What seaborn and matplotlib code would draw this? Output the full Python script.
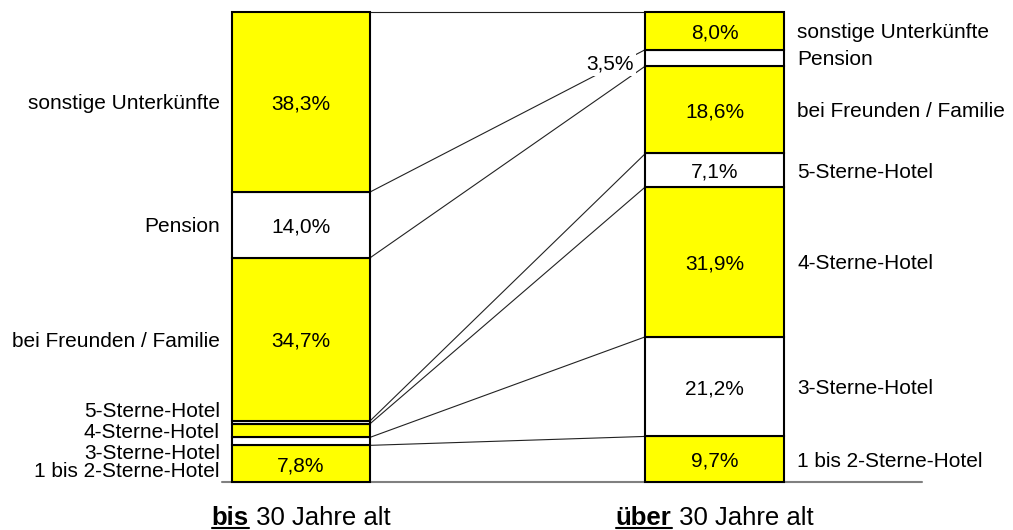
import numpy as np
import pandas as pd
import seaborn as sns
import matplotlib.pyplot as plt
from matplotlib.lines import Line2D

sns.set_theme(style="white")
plt.rcParams["font.family"] = ["Liberation Sans", "DejaVu Sans"]

# Accommodation types, listed from the bottom of each stacked bar to the top
categories = ["1 bis 2-Sterne-Hotel", "3-Sterne-Hotel", "4-Sterne-Hotel",
              "5-Sterne-Hotel", "bei Freunden / Familie", "Pension",
              "sonstige Unterkünfte"]
groups = ["bis 30 Jahre alt", "über 30 Jahre alt"]
share_young = [7.8, 1.7, 2.9, 0.6, 34.7, 14.0, 38.3]
share_old = [9.7, 21.2, 31.9, 7.1, 18.6, 3.5, 8.0]
segment_colors = ["#FFFF00", "#FFFFFF", "#FFFF00", "#FFFFFF",
                  "#FFFF00", "#FFFFFF", "#FFFF00"]
# bold (underlined) word and the rest of each group caption
group_titles = [("bis", " 30 Jahre alt"), ("über", " 30 Jahre alt")]

# label heights for the thin segments of the left bar (None = segment centre)
left_label_y = [2.6, 6.4, 10.9, 15.5, None, None, None]

LABEL_FS = 15
TITLE_FS = 18.5
bar_w = 0.334

df = pd.DataFrame({
    "group": np.repeat(groups, len(categories)),
    "category": categories * 2,
    "share": share_young + share_old,
    "color": segment_colors * 2,
})
df["bottom"] = df.groupby("group")["share"].cumsum() - df["share"]

fig = plt.figure(figsize=(10.13, 5.30), dpi=100)
ax = fig.add_axes([0, 0, 1, 1])

# stacked bars, one segment at a time
for _, row in df.iterrows():
    sns.barplot(x=[row["group"]], y=[row["share"]], order=groups,
                bottom=row["bottom"], color=row["color"], saturation=1,
                width=bar_w, edgecolor="black", linewidth=1.5,
                errorbar=None, ax=ax, zorder=2)

ax.set_xlim(-0.728, 1.722)
ax.set_ylim(-10.21, 102.55)
ax.set_axis_off()

# lines joining matching segment boundaries of both bars
x_left = bar_w / 2
x_right = 1 - bar_w / 2
for a, b in zip(np.cumsum(share_young), np.cumsum(share_old)):
    ax.plot([x_left, x_right], [a, b], color="#222222", lw=0.8,
            zorder=1, clip_on=False)

# base line under both bars
ax.plot([-bar_w / 2 - 0.024, 1 + bar_w / 2 + 0.335], [0, 0],
        color="#808080", lw=1.5, zorder=1, clip_on=False)

# category and value labels
for gi, grp in enumerate(groups):
    sub = df[df["group"] == grp].reset_index(drop=True)
    for ci, row in sub.iterrows():
        centre = row["bottom"] + row["share"] / 2
        value_text = f"{row['share']:.1f}".replace(".", ",") + "%"
        if gi == 0:
            y_lab = left_label_y[ci] if left_label_y[ci] is not None else centre
            ax.text(-bar_w / 2 - 0.029, y_lab, row["category"], ha="right",
                    va="center_baseline", fontsize=LABEL_FS, color="black")
        else:
            ax.text(1 + bar_w / 2 + 0.033, centre, row["category"], ha="left",
                    va="center_baseline", fontsize=LABEL_FS, color="black")
        if row["share"] >= 5:
            ax.text(gi, centre, value_text, ha="center", va="center_baseline",
                    fontsize=LABEL_FS, color="black", zorder=4)
        elif gi == 1:
            ax.text(gi - bar_w / 2 - 0.029, centre - 0.9, value_text,
                    ha="right", va="center_baseline", fontsize=LABEL_FS,
                    color="black", zorder=4,
                    bbox=dict(facecolor="white", edgecolor="none", pad=1.5))

# group captions below the bars: bold underlined word followed by plain text
renderer = fig.canvas.get_renderer()
title_y = -9.15
for gi, (bold, rest) in enumerate(group_titles):
    t1 = ax.text(gi, title_y, bold, fontsize=TITLE_FS, fontweight="bold",
                 ha="left", va="baseline", color="black")
    t2 = ax.annotate(rest, xy=(1, 0), xycoords=t1, fontsize=TITLE_FS,
                     ha="left", va="bottom", color="black")
    w_total = (t1.get_window_extent(renderer).width
               + t2.get_window_extent(renderer).width)
    x_px = ax.transData.transform((gi, 0))[0] - w_total / 2
    t1.set_x(ax.transData.inverted().transform((x_px, 0))[0])
    bb = t1.get_window_extent(renderer)
    base_px = ax.transData.transform((0, title_y))[1]
    uy = (base_px - 2.5) / fig.bbox.height
    fig.add_artist(Line2D([bb.x0 / fig.bbox.width, bb.x1 / fig.bbox.width],
                          [uy, uy], color="black", lw=1.5))

fig.savefig("out.png", dpi=100)
